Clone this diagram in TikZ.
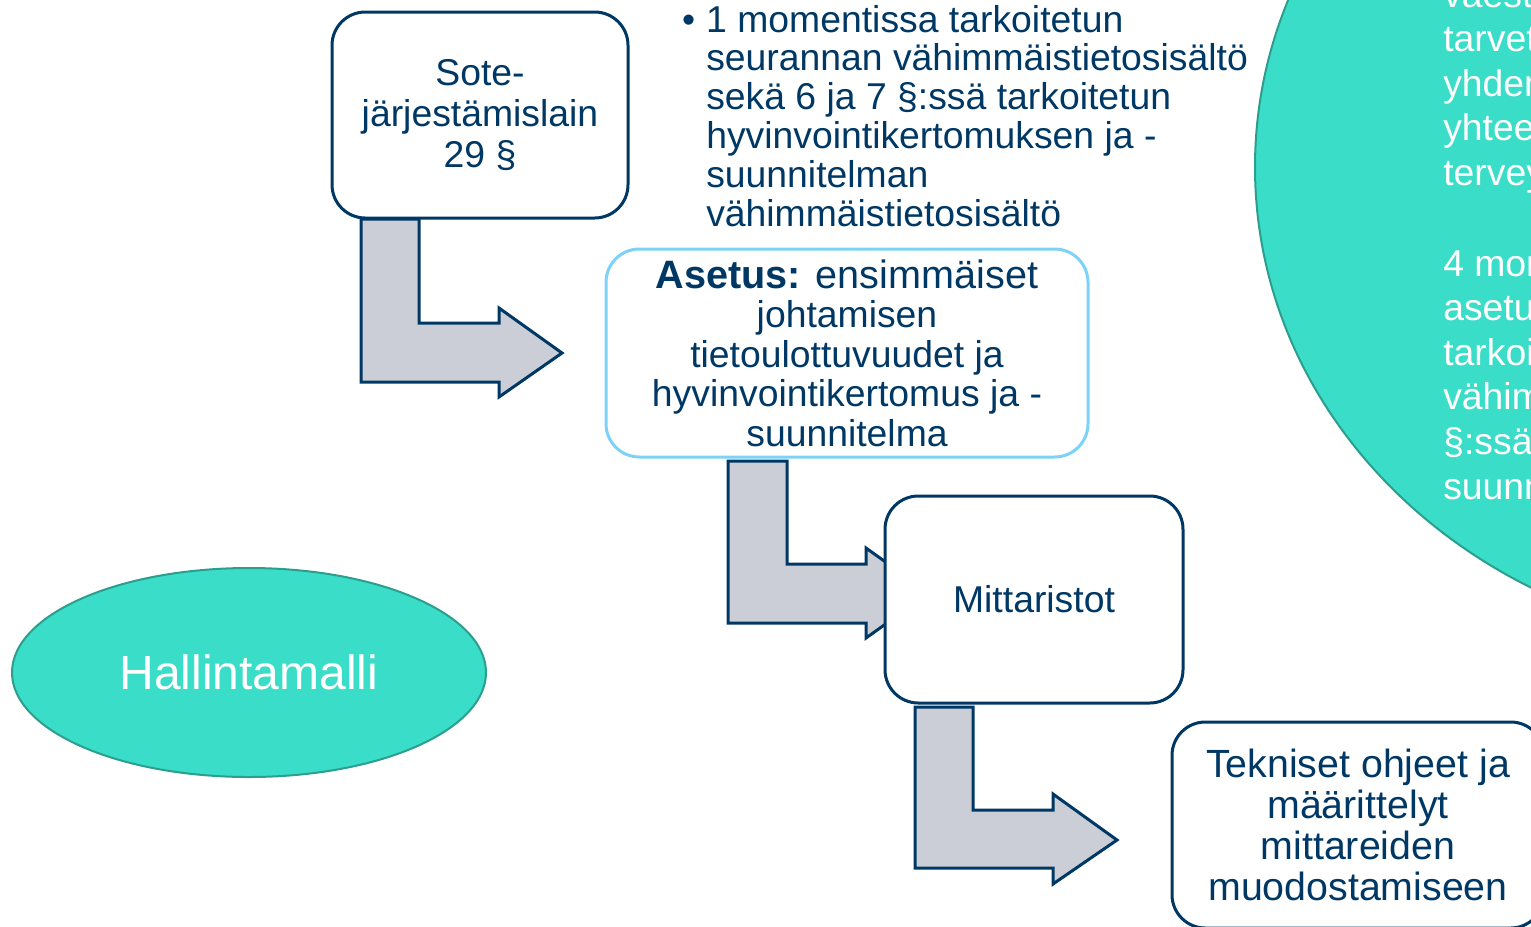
\documentclass[tikz,border=0pt]{standalone}
\usepackage{fontspec}
\setmainfont{Liberation Sans}
\usetikzlibrary{shapes.geometric,calc}
\pgfdeclarelayer{background}
\pgfsetlayers{background,main}
\definecolor{navy}{RGB}{0,56,101}
\definecolor{tealfill}{RGB}{58,221,200}
\definecolor{tealedge}{RGB}{44,158,142}
\definecolor{arrowgray}{RGB}{203,206,214}
\definecolor{lightblue}{RGB}{125,211,247}
\begin{document}
\begin{tikzpicture}[x=0.75pt,y=-0.75pt,
  box/.style={draw=navy, line width=2.25pt, rounded corners=25pt, fill=white,
    align=center, text=navy, inner sep=0pt, outer sep=0pt},
  barrow/.style={draw=navy, line width=2.25pt, fill=arrowgray},
  tealshape/.style={fill=tealfill, draw=tealedge, line width=1.5pt}
]
\useasboundingbox (0,0) rectangle (1531,926);
\clip (0,0) rectangle (1531,926);

% big teal ellipse on the right, clipped
\path[tealshape] (1788,167) ellipse [x radius=533, y radius=480];
\node[anchor=base west, align=left, text=white, inner sep=0pt,
  font=\fontsize{28}{33.4}\selectfont] (circtext) at (1443,499)
  {väest\\tarvet\\yhden\\yhtee\\tervey\\[35pt]4 mon\\asetu\\tarkoi\\vähim\\§:ssä\\suunn};

% boxes
\node[box, minimum width=222pt, minimum height=154.5pt,
  font=\fontsize{28}{30.75}\selectfont] (sote) at (480,115)
  {Sote-\\järjestämislain\\29 §};
\node[box, draw=lightblue, minimum width=361.5pt, minimum height=156pt,
  font=\fontsize{28}{29.6}\selectfont] (asetus) at (847,353)
  {{\fontsize{29.7}{29.6}\selectfont\textbf{Asetus:} ensimmäiset}\\johtamisen\\tietoulottuvuudet ja\\hyvinvointikertomus ja -\\suunnitelma};
\node[box, minimum width=223.5pt, minimum height=155.25pt,
  font=\fontsize{28}{30.75}\selectfont] (mitta) at (1034,599.5)
  {Mittaristot};
\node[box, minimum width=279pt, minimum height=154.5pt,
  font=\fontsize{29.5}{30.75}\selectfont] (tekn) at (1358,825)
  {Tekniset ohjeet ja\\määrittelyt\\mittareiden\\muodostamiseen};

% bullet text
\node[anchor=base west, align=left, text=navy, inner sep=0pt,
  font=\fontsize{28}{29.1}\selectfont] (bullets) at (706,226)
  {\llap{•\hspace{8.25pt}}1 momentissa tarkoitetun\\seurannan vähimmäistietosisältö\\sekä 6 ja 7 §:ssä tarkoitetun\\hyvinvointikertomuksen ja -\\suunnitelman\\vähimmäistietosisältö};

% Hallintamalli ellipse
\node[ellipse, tealshape, minimum width=355.5pt, minimum height=156.75pt,
  inner sep=0pt, text=white, font=\fontsize{36}{40}\selectfont] (hall) at (249,672.5)
  {Hallintamalli};

% bent arrows
\begin{pgfonlayer}{background}
\draw[barrow] ($(sote.south west)+(29,1)$) -- ++(58,0) -- ++(0,104) -- ++(80,0)
  -- ++(0,-15) -- ++(63,45) -- ++(-63,44) -- ++(0,-15) -- ++(-138,0) -- cycle;
\draw[barrow] ($(asetus.south west)+(122,4)$) -- ++(59,0) -- ++(0,103) -- ++(79,0)
  -- ++(0,-16) -- ++(63,45) -- ++(-63,45) -- ++(0,-15) -- ++(-138,0) -- cycle;
\draw[barrow] ($(mitta.south west)+(30,4)$) -- ++(58,0) -- ++(0,103) -- ++(80,0)
  -- ++(0,-16) -- ++(64,46) -- ++(-64,44) -- ++(0,-16) -- ++(-138,0) -- cycle;
\end{pgfonlayer}
\end{tikzpicture}
\end{document}
